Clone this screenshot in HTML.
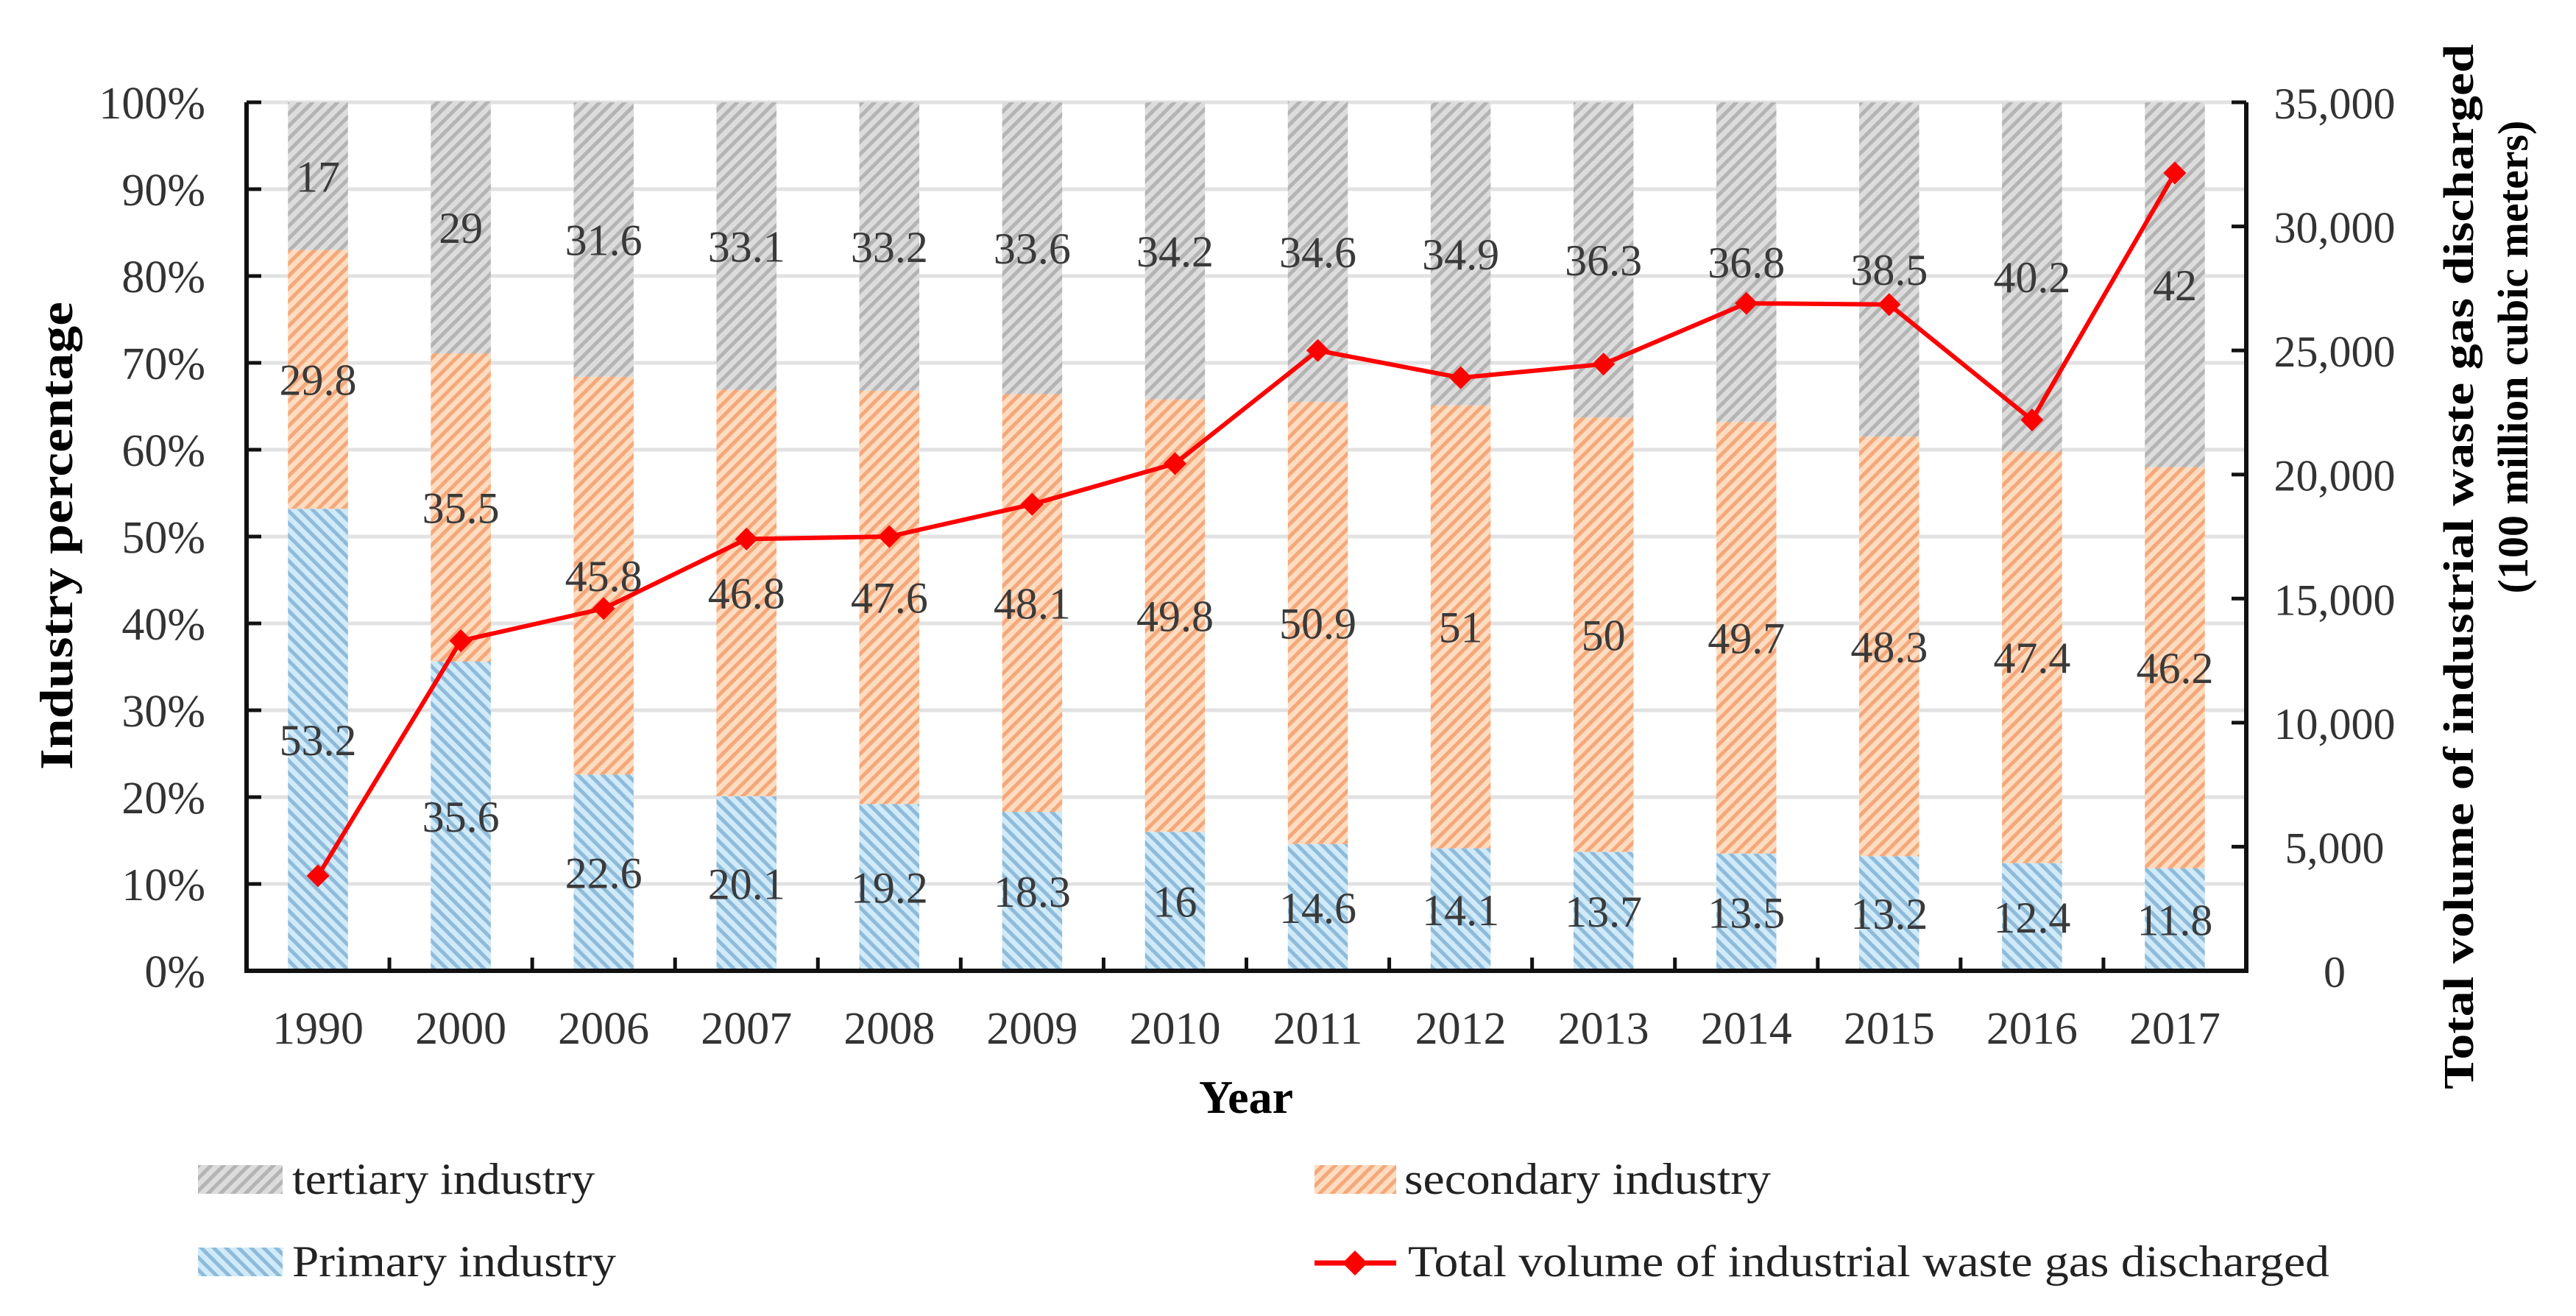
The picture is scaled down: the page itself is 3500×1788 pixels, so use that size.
<!DOCTYPE html>
<html><head><meta charset="utf-8"><style>
html,body{margin:0;padding:0;background:#fff;}
svg{display:block;font-family:"Liberation Serif",serif;}
</style></head><body>
<svg id="chart" width="3500" height="1788" viewBox="0 0 3500 1788" xmlns="http://www.w3.org/2000/svg">
<defs>
<pattern id="pTer" patternUnits="userSpaceOnUse" width="12" height="12" patternTransform="rotate(45)">
<rect width="12" height="12" fill="#dcdcdc"/><rect width="5" height="12" fill="#b4b4b4"/></pattern>
<pattern id="pSec" patternUnits="userSpaceOnUse" width="12" height="12" patternTransform="rotate(45)">
<rect width="12" height="12" fill="#fddcc0"/><rect width="5" height="12" fill="#f5a77a"/></pattern>
<pattern id="pPri" patternUnits="userSpaceOnUse" width="12" height="12" patternTransform="rotate(-45)">
<rect width="12" height="12" fill="#cfeafa"/><rect width="5" height="12" fill="#8fbad8"/></pattern>
</defs>
<g id="grid"></g>
<g id="bars"></g>
<g id="labels"></g>
<g id="line"></g>
<g id="axes"></g>
<text x="0" y="0" transform="translate(98,728) rotate(-90)" text-anchor="middle" font-weight="bold" font-size="64" textLength="636" lengthAdjust="spacingAndGlyphs">Industry  percentage</text>
<text x="0" y="0" transform="translate(3360,770) rotate(-90)" text-anchor="middle" font-weight="bold" font-size="58" textLength="1420" lengthAdjust="spacingAndGlyphs">Total volume of industrial waste gas discharged</text>
<text x="0" y="0" transform="translate(3434,485) rotate(-90)" text-anchor="middle" font-weight="bold" font-size="58">(100 million cubic meters)</text>
<text x="1693" y="1512" text-anchor="middle" font-weight="bold" font-size="64">Year</text>
<g>
<rect x="269" y="1583" width="115" height="39" fill="url(#pTer)"/>
<text x="397" y="1622" font-size="60" fill="#222" textLength="411" lengthAdjust="spacingAndGlyphs">tertiary industry</text>
<rect x="1786" y="1583" width="111" height="39" fill="url(#pSec)"/>
<text x="1908" y="1622" font-size="60" fill="#222" textLength="498" lengthAdjust="spacingAndGlyphs">secondary industry</text>
<rect x="269" y="1695" width="115" height="39" fill="url(#pPri)"/>
<text x="397" y="1734" font-size="60" fill="#222" textLength="440" lengthAdjust="spacingAndGlyphs">Primary industry</text>
<line x1="1786" y1="1716" x2="1897" y2="1716" stroke="#f00" stroke-width="7"/>
<rect x="1829" y="1704" width="24" height="24" fill="#f00" transform="rotate(45 1841 1716)"/>
<text x="1913" y="1734" font-size="60" fill="#222" textLength="1252" lengthAdjust="spacingAndGlyphs">Total volume of industrial waste gas discharged</text>
</g>
</svg>
<script>
const years = ["1990","2000","2006","2007","2008","2009","2010","2011","2012","2013","2014","2015","2016","2017"];
const primary = [53.2,35.6,22.6,20.1,19.2,18.3,16,14.6,14.1,13.7,13.5,13.2,12.4,11.8];
const secondary = [29.8,35.5,45.8,46.8,47.6,48.1,49.8,50.9,51,50,49.7,48.3,47.4,46.2];
const tertiary = [17,29,31.6,33.1,33.2,33.6,34.2,34.6,34.9,36.3,36.8,38.5,40.2,42];
const wasteGas = [3830,13300,14600,17400,17500,18800,20440,25000,23900,24450,26900,26850,22200,32150];
const leftTicks = ["0%","10%","20%","30%","40%","50%","60%","70%","80%","90%","100%"];
const rightTicks = ["0","5,000","10,000","15,000","20,000","25,000","30,000","35,000"];

const NS="http://www.w3.org/2000/svg";
const X0=335,X1=3052,Y0=1319,Y1=139;
const band=(X1-X0)/years.length, bw=band*0.42;
const xc=i=>X0+band*(i+0.5);
const yp=v=>Y0-(v/100)*(Y0-Y1);
const yr=v=>Y0-(v/35000)*(Y0-Y1);
function mk(tag,attrs,parent){const e=document.createElementNS(NS,tag);for(const k in attrs)e.setAttribute(k,attrs[k]);parent.appendChild(e);return e;}
const g=id=>document.getElementById(id);

for(let t=1;t<=10;t++){
  const l=mk('line',{x1:X0,x2:X1,y1:yp(t*10),y2:yp(t*10),stroke:'#e2e2e2','stroke-width':5},g('grid'));
  
  
}
const segs=[[primary,'url(#pPri)','primary'],[secondary,'url(#pSec)','secondary'],[tertiary,'url(#pTer)','tertiary']];
years.forEach((yv,i)=>{
  let base=0;
  segs.forEach(([arr,fill,nm])=>{
    const v=arr[i];
    const r=mk('rect',{x:xc(i)-bw/2,y:yp(base+v),width:bw,height:yp(base)-yp(base+v),fill:fill},g('bars'));
    
    
    const t=mk('text',{x:xc(i),y:yp(base+v/2)+21,'text-anchor':'middle','font-size':60,fill:'#3a3a3a'},g('labels'));
    
    
    t.textContent=String(v);
    base+=v;
  });
});
const pts=wasteGas.map((v,i)=>xc(i)+','+yr(v)).join(' ');
const pl=mk('polyline',{points:pts,fill:'none',stroke:'#f00','stroke-width':6},g('line'));


wasteGas.forEach((v,i)=>{
  const m=mk('rect',{x:xc(i)-11,y:yr(v)-11,width:22,height:22,fill:'#f00',transform:'rotate(45 '+xc(i)+' '+yr(v)+')'},g('line'));
  
  
});
const ax=g('axes');
const a1=mk('path',{d:`M${X0},${Y1} V${Y0} H${X1} V${Y1}`,fill:'none',stroke:'#111','stroke-width':6},ax);


leftTicks.forEach((s,k)=>{
  const y=yp(k*10);
  const tk=mk('line',{x1:X0,x2:X0+20,y1:y,y2:y,stroke:'#111','stroke-width':5},ax);
  
  
  const t=mk('text',{x:279,y:y+22,'text-anchor':'end','font-size':62,fill:'#333'},ax);
  
  
  t.textContent=s;
});
rightTicks.forEach((s,k)=>{
  const y=yr(k*5000);
  const tk=mk('line',{x1:X1,x2:X1-20,y1:y,y2:y,stroke:'#111','stroke-width':5},ax);
  
  
  const t=mk('text',{x:3172,y:y+22,'text-anchor':'middle','font-size':60,fill:'#333'},ax);
  
  
  t.textContent=s;
});
years.forEach((s,i)=>{
  if(i>0){
    const tk=mk('line',{x1:X0+band*i,x2:X0+band*i,y1:Y0,y2:Y0-18,stroke:'#111','stroke-width':5},ax);
    
    
  }
  const t=mk('text',{x:xc(i),y:1418,'text-anchor':'middle','font-size':62,fill:'#333'},ax);
  
  
  t.textContent=s;
});
</script>
</body></html>
